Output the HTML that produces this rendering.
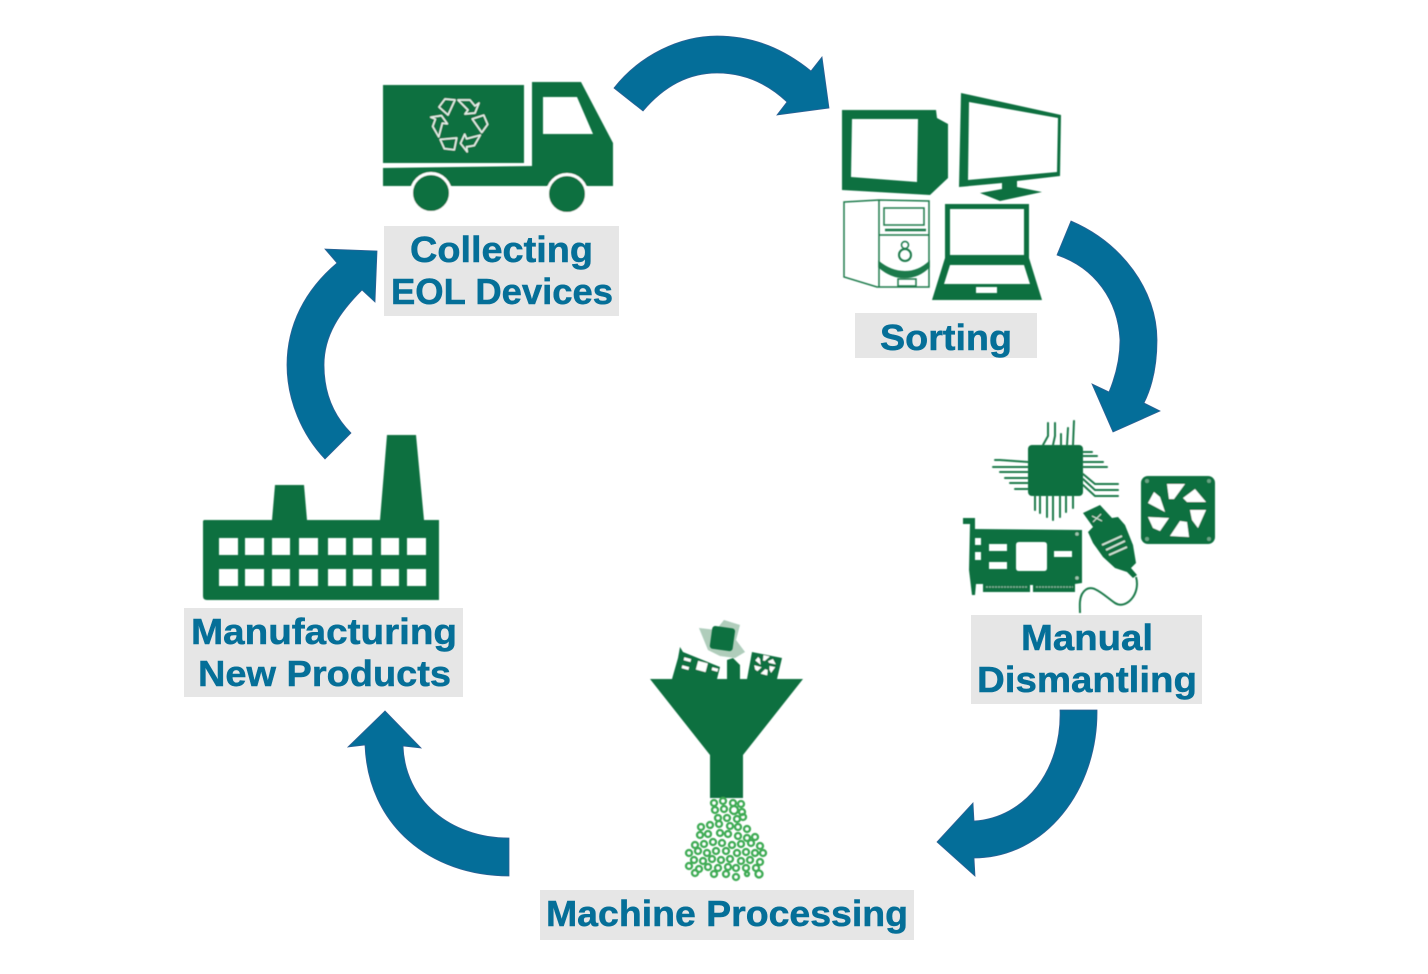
<!DOCTYPE html>
<html lang="en">
<head>
<meta charset="utf-8">
<title>EOL device recycling cycle</title>
<style>
html,body{margin:0;padding:0;background:#fff;width:1428px;height:974px;overflow:hidden}
svg{display:block}
text{font-family:"Liberation Sans",sans-serif;font-weight:700;font-size:36px;fill:#056f98;stroke:#056f98;stroke-width:.5}
</style>
</head>
<body>
<svg width="1428" height="974" viewBox="0 0 1428 974" xmlns="http://www.w3.org/2000/svg">
<defs>
<filter id="b" x="-5%" y="-5%" width="110%" height="110%"><feGaussianBlur stdDeviation="0.6"/></filter>
<g id="fb" fill="#fff">
<path d="M1167 484 L1185 484 L1174 499 L1169 499Z"/>
<path d="M1183 498 L1195 489 L1206 502 L1187 502Z"/>
<path d="M1190 510 L1206 510 L1198 528 L1192 520Z"/>
<path d="M1170 536 L1180 521 L1187 522 L1189 537Z"/>
<path d="M1148 517 L1169 518 L1160 531 L1153 528Z"/>
<path d="M1148 503 L1154 492 L1160 497 L1165 512Z"/>
</g>
<g id="rec">
<path d="M-20-17 L-14-25 L-4-24 L-11-9Z"/>
<path d="M-1-24 L11-24 L16-18 L20-21 L16-11 L6-10 L9-14 L4-19Z"/>
</g>
</defs>

<!-- label boxes -->
<g fill="#e6e6e6">
<rect x="384" y="226" width="235" height="90"/>
<rect x="855" y="313" width="182" height="45"/>
<rect x="971" y="615" width="231" height="89"/>
<rect x="540" y="890" width="374" height="50"/>
<rect x="184" y="608" width="279" height="89"/>
</g>

<!-- arrows -->
<g fill="#046e99" stroke="#2f5f93" stroke-width="0.8">
<path d="M614 88 C640 55 680 36 717 36 C755 36 785 50 811 71 L822 57 L829 108 L777 115 L787 102 C768 84 745 73 717 73 C690 73 665 85 643 111Z"/>
<path d="M1071 221 C1122 243 1157 290 1157 340 C1157 365 1153 385 1144 403 L1160 411 L1113 432 L1092 384 L1109 392 C1116 375 1120 358 1120 340 C1118 300 1095 268 1057 255Z"/>
<path d="M1060 710 L1097 710 C1098 790 1045 858 974 858 L975 876 L937 842 L973 803 L974 821 C1025 818 1062 770 1060 710Z"/>
<path d="M509 838 L509 876 C430 876 368 825 365 745 L348 747 L385 711 L421 748 L403 746 C405 800 450 838 509 838Z"/>
<path d="M325 459 L351 433 C333 415 324 392 324 365 C324 335 340 312 362 290 L375 302 L377 251 L325 249 L337 263 C305 290 287 325 287 365 C287 400 302 435 325 459Z"/>
</g>

<g filter="url(#b)">
<!-- truck -->
<g fill="#10703f">
<rect x="383" y="85" width="141" height="78"/>
<path fill-rule="evenodd" d="M532 82 L581 82 L613 143 L613 186 L383 186 L383 168 L532 166Z M543 97 L577 97 L593 134 L543 134Z"/>
</g>
<g fill="#10703f" stroke="#fff" stroke-width="3">
<circle cx="431" cy="193" r="19.5"/>
<circle cx="567" cy="194" r="19.5"/>
</g>
<g transform="translate(459 124)" fill="none" stroke="#e4eee7" stroke-width="1.7" stroke-linejoin="round">
<use href="#rec"/>
<use href="#rec" transform="rotate(120)"/>
<use href="#rec" transform="rotate(240)"/>
</g>

<!-- computers -->
<g fill="#10703f">
<path fill-rule="evenodd" d="M842 110 L936 110 L937 118 L948 124 L948 178 L930 195 L842 190Z M852 119 L918 119 L917 182 L851 177Z"/>
<path fill-rule="evenodd" d="M961 93 L1061 115 L1060 176 L1017 181 L1017 187 L1042 192 L1000 201 L980 193 L1002 189 L1002 183 L959 187Z M969 102 L1058 118 L1057 172 L968 180Z"/>
<path fill-rule="evenodd" d="M945 204 L1029 204 L1029 258 L1042 300 L932 300 L945 258Z M950 209 L1024 209 L1024 255 L950 255Z M950 265 L1024 265 L1030 284 L944 284Z M976 287 L997 287 L997 293 L976 293Z"/>
</g>
<g fill="none" stroke="#1f7a4b" stroke-width="1.5">
<path d="M844 202 L879 200 L929 201 L929 287 L877 287 L844 277Z"/>
<path d="M879 200 L879 287"/>
<path d="M879 235 L929 235"/>
<rect x="884" y="208" width="40" height="17"/>
<rect x="898" y="279" width="18" height="7"/>
<path d="M885 230 L926 230" stroke-width="2.5"/>
<circle cx="905" cy="245" r="3.5"/>
<circle cx="905" cy="255" r="6" stroke-width="2"/>
<path d="M879 262 C895 275 915 275 929 262 L929 267 C915 281 895 281 879 267Z" fill="#1f7a4b"/>
</g>

<!-- chip -->
<rect x="1028" y="445" width="55" height="51" rx="4" fill="#10703f"/>
<g fill="none" stroke="#1f7a4b" stroke-width="2" stroke-linecap="round">
<path d="M1043 445 L1048 436 L1048 423"/>
<path d="M1053 445 L1055 436 L1055 423"/>
<path d="M1061 445 L1061 434"/>
<path d="M1067 445 L1068 428"/>
<path d="M1073 445 L1074 421"/>
<path d="M1028 462 L1000 460 L995 460"/>
<path d="M1028 467 L993 467"/>
<path d="M1028 472 L1000 472"/>
<path d="M1028 478 L1005 478"/>
<path d="M1028 483 L1010 483"/>
<path d="M1028 489 L1015 489"/>
<path d="M1083 452 L1092 452"/>
<path d="M1083 456 L1097 456"/>
<path d="M1083 462 L1103 462"/>
<path d="M1083 467 L1107 467"/>
<path d="M1083 474 L1095 484 L1118 484"/>
<path d="M1083 479 L1095 490 L1118 490"/>
<path d="M1083 485 L1095 496 L1118 496"/>
<path d="M1035 496 L1035 510"/>
<path d="M1040 496 L1040 513"/>
<path d="M1047 496 L1047 517"/>
<path d="M1053 496 L1053 520"/>
<path d="M1060 496 L1060 517"/>
<path d="M1066 496 L1066 512"/>
<path d="M1073 496 L1073 508"/>
</g>

<!-- fan -->
<rect x="1141" y="476" width="74" height="68" rx="7" fill="#10703f"/>
<use href="#fb"/>
<g fill="#6aa585"><circle cx="1147" cy="481" r="2"/><circle cx="1209" cy="481" r="2"/><circle cx="1147" cy="539" r="2"/><circle cx="1209" cy="539" r="2"/></g>

<!-- card -->
<path fill="#10703f" fill-rule="evenodd" d="M963 518 L975 518 L975 529 L1082 530 L1082 583 L1075 584 L1075 592 L1033 592 L1033 585 L1030 585 L1030 592 L983 592 L983 584 L976 584 L975 595 L972 595 L969 570 L970 524 L963 524Z M1019 542 L1044 542 Q1047 542 1047 545 L1047 568 Q1047 571 1044 571 L1019 571 Q1016 571 1016 568 L1016 545 Q1016 542 1019 542Z M989 544 L1007 544 L1007 551 L989 551Z M989 562 L1007 562 L1007 569 L989 569Z M1054 551 L1072 551 L1072 557 L1054 557Z M975 538 L981 538 L981 545 L975 545Z M975 552 L981 552 L981 560 L975 560Z"/>
<g fill="#9fc6b0"><circle cx="1077" cy="534" r="1.8"/><circle cx="1077" cy="578" r="1.8"/></g>
<path d="M986 587 H1028 M1036 587 H1073" stroke="#7fb398" stroke-width="1.5" stroke-dasharray="2 1"/>

<!-- USB -->
<path fill="#10703f" d="M1083 513 L1100 505 L1112 518 L1118 517 L1125 525 L1133 545 L1136 563 L1131 568 L1137 575 L1133 578 L1127 572 L1115 568 L1103 557 L1093 543 L1088 532 L1093 527Z"/>
<g fill="none" stroke="#cfe2d6" stroke-width="1.8">
<path d="M1102 545 L1122 536"/>
<path d="M1106 550 L1125 541"/>
<path d="M1109 555 L1127 547"/>
<path d="M1092 516 L1102 521 M1093 522 L1101 514" stroke-width="1.1"/>
</g>
<path d="M1136 577 C1141 594 1126 610 1115 603 C1102 594 1090 580 1082 594 C1079 600 1080 607 1080 613" fill="none" stroke="#1f7a4b" stroke-width="2"/>

<!-- funnel items -->
<g fill="#10703f">
<g opacity=".35">
<path d="M699 628 L716 630 L724 620 L740 625 L736 640 L745 652 L735 658 L720 656 L708 650Z"/>
</g>
<rect x="711" y="627" width="23" height="23" rx="3" transform="rotate(8 722 638)"/>
<path d="M672 679 L678 658 L680 647 L683 652 L720 667 L717 679Z"/>
<path d="M727 679 L727 660 L733 658 L740 665 L740 679Z"/>
<path d="M747 679 L752 652 L782 658 L777 679Z"/>
</g>
<g fill="#fff">
<rect x="697" y="662" width="10" height="9" transform="rotate(15 702 666)"/>
<rect x="684" y="658" width="7" height="3" transform="rotate(15 687 659)"/>
<rect x="682" y="666" width="7" height="3" transform="rotate(15 685 667)"/>
<rect x="712" y="668" width="6" height="3" transform="rotate(15 715 669)"/>
</g>
<use href="#fb" transform="translate(765 665) rotate(12) scale(.36) translate(-1177 -510)"/>

<!-- funnel -->
<path fill="#10703f" d="M650 679 L803 679 L743 755 L743 798 L710 798 L710 755Z"/>

<!-- granules -->
<g fill="none" stroke="#3daa52" stroke-width="2.3">
<circle cx="714" cy="803" r="3"/><circle cx="723" cy="801" r="3"/><circle cx="733" cy="803" r="3"/><circle cx="741" cy="804" r="3"/>
<circle cx="715" cy="810" r="3"/><circle cx="724" cy="809" r="3"/><circle cx="734" cy="810" r="4"/><circle cx="742" cy="812" r="3"/>
<circle cx="718" cy="818" r="3"/><circle cx="727" cy="818" r="3"/><circle cx="737" cy="819" r="3"/><circle cx="743" cy="817" r="3"/>
<circle cx="710" cy="825" r="3"/><circle cx="719" cy="824" r="3"/><circle cx="730" cy="826" r="3"/><circle cx="738" cy="827" r="3"/><circle cx="747" cy="829" r="3"/>
<circle cx="701" cy="827" r="3"/><circle cx="708" cy="834" r="3"/><circle cx="720" cy="833" r="3"/><circle cx="728" cy="834" r="3"/><circle cx="738" cy="836" r="3"/><circle cx="747" cy="838" r="3"/><circle cx="755" cy="837" r="3"/>
<circle cx="700" cy="835" r="3"/><circle cx="695" cy="845" r="3"/><circle cx="704" cy="844" r="3"/><circle cx="713" cy="842" r="3"/><circle cx="722" cy="843" r="3"/><circle cx="732" cy="845" r="3"/><circle cx="741" cy="844" r="3"/><circle cx="751" cy="843" r="3"/><circle cx="760" cy="846" r="3"/>
<circle cx="689" cy="853" r="3"/><circle cx="698" cy="851" r="3"/><circle cx="707" cy="853" r="3"/><circle cx="716" cy="851" r="3"/><circle cx="726" cy="851" r="3"/><circle cx="737" cy="853" r="3"/><circle cx="746" cy="852" r="3"/><circle cx="755" cy="853" r="3"/><circle cx="763" cy="853" r="3"/>
<circle cx="694" cy="860" r="3"/><circle cx="703" cy="861" r="3"/><circle cx="712" cy="859" r="3"/><circle cx="721" cy="860" r="3"/><circle cx="730" cy="859" r="3"/><circle cx="741" cy="861" r="3"/><circle cx="750" cy="860" r="3"/><circle cx="760" cy="862" r="3"/>
<circle cx="689" cy="866" r="3"/><circle cx="699" cy="869" r="3"/><circle cx="708" cy="867" r="3"/><circle cx="718" cy="868" r="3"/><circle cx="728" cy="867" r="3"/><circle cx="736" cy="868" r="3"/><circle cx="746" cy="868" r="3"/><circle cx="756" cy="868" r="3"/>
<circle cx="695" cy="873" r="3"/><circle cx="714" cy="874" r="3"/><circle cx="726" cy="874" r="3"/><circle cx="736" cy="877" r="3"/><circle cx="747" cy="874" r="2"/><circle cx="759" cy="874" r="3.5"/>
</g>

<!-- factory -->
<path fill="#10703f" fill-rule="evenodd" d="M204 520 L272 520 L275 485 L304 485 L307 520 L380 520 L387 435 L416 435 L424 520 L439 520 L439 600 L207 600 Q203 600 203 596 L203 521Z
M219 538h19v17h-19Z M245 538h19v17h-19Z M272 538h18v17h-18Z M299 538h19v17h-19Z M328 538h18v17h-18Z M353 538h19v17h-19Z M381 538h18v17h-18Z M407 538h19v17h-19Z
M219 569h19v17h-19Z M245 569h19v17h-19Z M272 569h18v17h-18Z M299 569h19v17h-19Z M328 569h18v17h-18Z M353 569h19v17h-19Z M381 569h18v17h-18Z M407 569h19v17h-19Z"/>
</g>

<!-- labels -->
<text x="410" y="262" textLength="183" lengthAdjust="spacingAndGlyphs">Collecting</text>
<text x="391" y="304" textLength="222" lengthAdjust="spacingAndGlyphs">EOL Devices</text>
<text x="880" y="350" textLength="132" lengthAdjust="spacingAndGlyphs">Sorting</text>
<text x="1021" y="650" textLength="132" lengthAdjust="spacingAndGlyphs">Manual</text>
<text x="977" y="692" textLength="220" lengthAdjust="spacingAndGlyphs">Dismantling</text>
<text x="546" y="926" textLength="362" lengthAdjust="spacingAndGlyphs">Machine Processing</text>
<text x="191" y="644" textLength="266" lengthAdjust="spacingAndGlyphs">Manufacturing</text>
<text x="198" y="686" textLength="253" lengthAdjust="spacingAndGlyphs">New Products</text>
</svg>
</body>
</html>
